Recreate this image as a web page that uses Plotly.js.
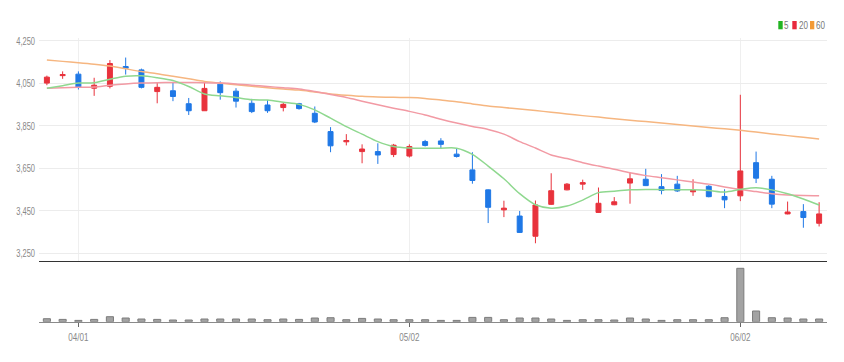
<!DOCTYPE html>
<html>
<head>
<meta charset="utf-8">
<script src="https://cdn.plot.ly/plotly-3.0.1.min.js"></script>
<style>
  html, body { margin: 0; padding: 0; background: #ffffff; }
  #chart { width: 844px; height: 362px; }
</style>
</head>
<body>
<div id="chart"></div>
<script>
// Trading days (MM/DD)
var dates = ['03/30','03/31','04/01','04/04','04/05','04/06','04/07','04/08','04/11','04/12',
             '04/13','04/14','04/15','04/18','04/19','04/20','04/21','04/22','04/25','04/26',
             '04/27','04/28','04/29','05/02','05/03','05/04','05/06','05/09','05/10','05/11',
             '05/12','05/13','05/16','05/17','05/18','05/19','05/20','05/23','05/24','05/25',
             '05/26','05/27','05/30','05/31','06/02','06/03','06/07','06/08','06/09','06/10'];

var openP  = [4050,4085,4092,4026,4035,4128,4112,4010,4014,3953,
              3920,4045,4012,3955,3947,3935,3953,3908,3822,3774,
              3728,3728,3714,3707,3775,3778,3716,3642,3548,3454,
              3425,3330,3480,3548,3575,3442,3478,3580,3598,3563,
              3575,3539,3565,3517,3520,3676,3598,3435,3446,3391];
var highP  = [4085,4105,4105,4075,4158,4170,4118,4050,4055,3980,
              4055,4058,4026,3976,3970,3958,3957,3940,3843,3810,
              3762,3767,3764,3762,3783,3791,3744,3725,3550,3497,
              3449,3498,3626,3580,3596,3559,3514,3630,3647,3622,
              3614,3598,3570,3551,3995,3728,3614,3493,3481,3490];
var lowP   = [4040,4070,4020,3990,4025,4090,4025,3955,3965,3900,
              3920,3972,3935,3909,3910,3917,3925,3862,3725,3757,
              3673,3670,3702,3700,3752,3740,3700,3577,3392,3420,
              3346,3297,3477,3546,3548,3440,3476,3483,3566,3527,
              3538,3520,3513,3462,3495,3580,3462,3433,3370,3376];
var closeP = [4078,4090,4030,4040,4142,4120,4030,4030,3987,3920,
              4025,4005,3965,3916,3920,3950,3930,3867,3755,3780,
              3740,3712,3758,3752,3757,3762,3705,3592,3466,3462,
              3348,3477,3544,3575,3582,3485,3492,3600,3568,3545,
              3543,3546,3516,3501,3637,3603,3481,3444,3418,3435];

// Moving averages
var ma5  = [4026,4038,4050,4052,4068,4082,4084,4075,4062,4034,
            3999,3990,3982,3972,3970,3960,3950,3924,3885,3845,
            3810,3775,3752,3745,3744,3744,3744,3715,3660,3600,
            3530,3478,3462,3472,3500,3535,3542,3548,3550,3549,
            3548,3548,3545,3538,3550,3558,3548,3530,3505,3477];
var ma20 = [4026,4028,4030,4032,4040,4046,4050,4052,4053,4053,
            4052,4050,4046,4040,4034,4028,4022,4010,3996,3982,
            3965,3948,3932,3917,3900,3880,3862,3846,3832,3810,
            3775,3745,3712,3695,3676,3660,3645,3628,3615,3605,
            3595,3585,3575,3562,3550,3540,3530,3524,3521,3520];
var ma60 = [4159,4152,4146,4139,4130,4117,4104,4094,4082,4070,
            4058,4050,4042,4035,4028,4022,4017,4008,3999,3993,
            3988,3985,3983,3982,3978,3970,3962,3952,3942,3935,
            3928,3921,3913,3905,3897,3890,3882,3875,3869,3862,
            3855,3848,3841,3835,3828,3820,3811,3803,3795,3787];

var volume = [120000,92000,52000,92000,200000,148000,108000,92000,68000,68000,
              108000,108000,108000,108000,80000,108000,92000,148000,160000,80000,
              132000,108000,80000,80000,80000,52000,52000,172000,172000,80000,
              148000,148000,108000,52000,80000,80000,68000,148000,108000,52000,
              80000,80000,80000,160000,2132000,428000,160000,148000,108000,108000];

var priceTicks = [3250,3450,3650,3850,4050,4250];
var priceTickText = ['3,250','3,450','3,650','3,850','4,050','4,250'];
var dateTicks = ['04/01','05/02','06/02'];
var legendNames = ['5','20','60'];

var FONT = 'Liberation Sans, Arial, sans-serif';
var RED = '#e8323c', BLUE = '#1f78e6';

var traces = [
  {type:'scatter', mode:'lines', x:dates, y:ma60, xaxis:'x', yaxis:'y',
   line:{color:'#f6b680', width:1.5, shape:'spline', smoothing:0.8}, hoverinfo:'skip'},
  {type:'scatter', mode:'lines', x:dates, y:ma20, xaxis:'x', yaxis:'y',
   line:{color:'#f29aa4', width:1.5, shape:'spline', smoothing:0.8}, hoverinfo:'skip'},
  {type:'scatter', mode:'lines', x:dates, y:ma5, xaxis:'x', yaxis:'y',
   line:{color:'#8fd88f', width:1.5, shape:'spline', smoothing:0.8}, hoverinfo:'skip'},
  {type:'candlestick', x:dates, open:openP, high:highP, low:lowP, close:closeP,
   xaxis:'x', yaxis:'y', whiskerwidth:0,
   increasing:{line:{color:RED, width:1}, fillcolor:RED},
   decreasing:{line:{color:BLUE, width:1}, fillcolor:BLUE}},
  {type:'bar', x:dates, y:volume, xaxis:'x2', yaxis:'y2', width:0.45,
   marker:{color:'#a3a3a3', line:{color:'#7c7c7c', width:1}}}
];

var legendColors = ['#22b422','#e8283c','#f39a35'];
var legRect = [[778.3,782.7],[792.3,796.7],[810,814.3]];
var legTextCenter = [786.2, 803.0, 820.2];
function px2x(p){ return (p-39)/788; }
function py2y(p){ return (362-p)/362; }
var shapes = [], annotations = [];
for (var i=0;i<legendNames.length;i++){
  shapes.push({type:'rect', xref:'paper', yref:'paper',
    x0:px2x(legRect[i][0]), x1:px2x(legRect[i][1]), y0:py2y(29.3), y1:py2y(21),
    fillcolor:legendColors[i], line:{width:0}});
  annotations.push({xref:'paper', yref:'paper', x:px2x(legTextCenter[i]), y:py2y(25.2),
    xanchor:'center', yanchor:'middle', showarrow:false, text:legendNames[i],
    font:{family:FONT, size:11.5, color:'#777'}});
}

var layout = {
  width:844, height:362,
  margin:{l:39, r:17, t:0, b:0},
  paper_bgcolor:'#ffffff', plot_bgcolor:'#ffffff',
  showlegend:false,
  boxgap:0.55,
  bargap:0.55,
  xaxis:{type:'category', anchor:'y', domain:[0,1], range:[-0.5,49.5],
    rangeslider:{visible:false}, showticklabels:false, ticks:'',
    showgrid:true, gridcolor:'#efefef', gridwidth:1,
    tickmode:'array', tickvals:dateTicks,
    showline:true, linecolor:'#333333', linewidth:1.5, zeroline:false, fixedrange:true},
  yaxis:{domain:[0.2798,0.8939], range:[3215,4260], anchor:'x',
    tickmode:'array', tickvals:priceTicks, ticktext:priceTickText,
    showgrid:true, gridcolor:'#ececec', gridwidth:1, zeroline:false, showline:false,
    ticks:'', ticklabelstandoff:3,
    tickfont:{family:FONT, size:11.5, color:'#888'}, fixedrange:true},
  xaxis2:{type:'category', anchor:'y2', domain:[0,1], range:[-0.5,49.5],
    tickmode:'array', tickvals:dateTicks, ticktext:dateTicks,
    showgrid:false, ticks:'outside', ticklen:4, tickcolor:'#666', tickwidth:1,
    showline:true, linecolor:'#8a8a8a', linewidth:1.5, zeroline:false,
    tickfont:{family:FONT, size:11.5, color:'#888'}, fixedrange:true},
  yaxis2:{domain:[0.1113,0.2762], range:[0,2383000], anchor:'x2',
    showgrid:false, showticklabels:false, zeroline:false, showline:false, ticks:'', fixedrange:true},
  shapes:shapes,
  annotations:annotations
};

// Condense text horizontally (the original uses a narrow typeface)
function condense(selector, ratio){
  var els = document.querySelectorAll(selector);
  for (var k=0;k<els.length;k++){
    var el = els[k];
    try {
      var w = el.getComputedTextLength();
      if (w > 0){
        el.setAttribute('textLength', (w*ratio).toFixed(2));
        el.setAttribute('lengthAdjust', 'spacingAndGlyphs');
      }
    } catch(e){}
  }
}

Plotly.newPlot('chart', traces, layout, {displayModeBar:false, staticPlot:true}).then(function(){
  condense('.yaxislayer-above .ytick text', 0.65);
  condense('.xaxislayer-above .x2tick text', 0.7);
  condense('.annotation-text', 0.7);
});
</script>
</body>
</html>
